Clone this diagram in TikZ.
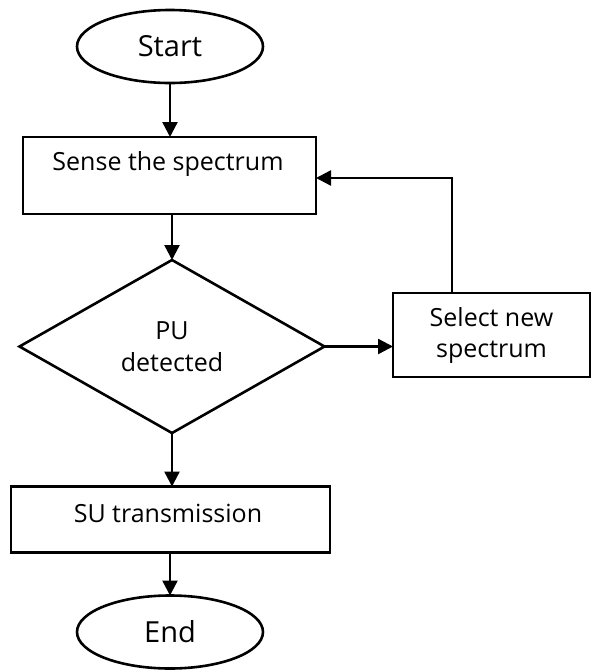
\documentclass[tikz,border=0pt]{standalone}
\usepackage{fontspec}
\setmainfont{Open Sans}
\usetikzlibrary{shapes.geometric,arrows.meta}
\begin{document}
\begin{tikzpicture}[x=1pt,y=-1pt,
  every node/.style={inner sep=0pt,outer sep=0pt},
  shapeline/.style={draw=black,line width=2.6pt},
  term/.style={shapeline,ellipse,minimum width=186pt,minimum height=73pt,font=\fontsize{29}{32}\selectfont},
  procbox/.style={shapeline,rectangle},
  decide/.style={shapeline,diamond,aspect=1.76,minimum width=305pt,minimum height=173pt,align=center,font=\fontsize{25}{34}\selectfont},
  lbl/.style={font=\fontsize{25}{31}\selectfont,align=center},
  flow/.style={line width=2.4pt,-{Triangle[width=15pt,length=15pt]}}
]
\useasboundingbox (0,0) rectangle (593,670);
\node[term] (start) at (170,46.5) {Start};
\node[procbox,minimum width=293pt,minimum height=77pt] (sense) at (169.5,175.5) {};
\node[lbl] (sensetxt) at (168,164) {Sense the spectrum};
\node[decide] (pu) at (172,346.5) {PU\\[-2pt]detected};
\node[procbox,lbl,minimum width=197pt,minimum height=84pt] (select) at (491.5,335) {Select new\\spectrum};
\node[procbox,minimum width=319pt,minimum height=66pt] (su) at (170.5,519.5) {};
\node[lbl] (sutxt) at (168,513) {SU transmission};
\node[term] (end) at (170,632) {End};
\draw[flow] (start.south) -- (start.south |- sense.north);
\draw[flow] (sense.south -| pu.north) -- (pu.north);
\draw[flow] (pu.east) -- (pu.east -| select.west);
\coordinate (fb) at (452,178);
\draw[flow] (fb |- select.north) -- (fb) -- (fb -| sense.east);
\draw[flow] (pu.south) -- (pu.south |- su.north);
\draw[flow] (su.south -| end.north) -- (end.north);
\end{tikzpicture}
\end{document}
